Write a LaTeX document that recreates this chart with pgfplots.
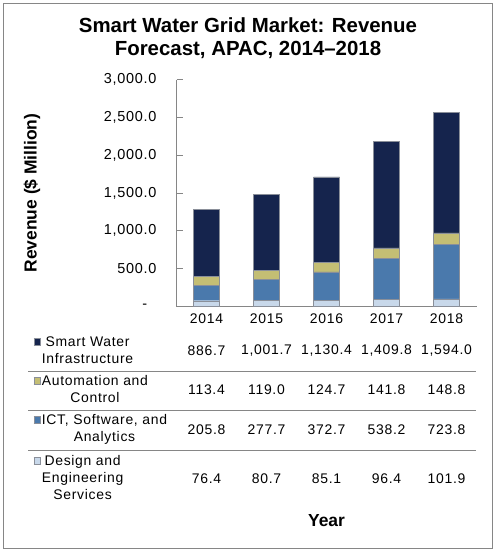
\documentclass[border=0pt]{standalone}
\usepackage{fontspec}
\setmainfont{Liberation Sans}
\newfontfamily\chartfont{Liberation Sans}[LetterSpace=5]
\usepackage{pgfplots}
\pgfplotsset{compat=1.18}
\usepackage{pgfplotstable}

\definecolor{infra}{HTML}{15244D}
\definecolor{autoc}{HTML}{C4BE74}
\definecolor{ict}{HTML}{4A79AC}
\definecolor{design}{HTML}{C8D8EA}
\definecolor{edge}{HTML}{8A8F99}
\definecolor{axisgray}{HTML}{868686}

% revenue, $ million, APAC
\pgfplotstableread{
x design ict auto infra
0 76.4 205.8 113.4 886.7
1 80.7 277.7 119.0 1001.7
2 85.1 372.7 124.7 1130.4
3 96.4 538.2 141.8 1409.8
4 101.9 723.8 148.8 1594.0
}\revenue

\newcommand\txt{\chartfont\fontsize{14}{17}\selectfont}
\newcommand\keybox[1]{\raisebox{1.5bp}{\setlength\fboxsep{0pt}\setlength\fboxrule{0.6bp}\fcolorbox{edge}{#1}{\hspace{6bp}\rule{0pt}{6bp}}}}
% table row label: key box, then a block of centred lines
\newcommand\rowlabel[2]{\keybox{#1}\hspace{1bp}\begin{tabular}[t]{@{}c@{}}#2\end{tabular}}

\begin{document}
\begin{tikzpicture}
\path[use as bounding box] (0,0) rectangle (495bp,-551bp);
\draw[axisgray, line width=1bp] (3.5bp,-3.5bp) rectangle (492bp,-548bp);

\node[font=\bfseries\fontsize{20.5}{24}\selectfont, anchor=base] at (248bp,-32bp) {Smart Water Grid Market: Revenue};
\node[font=\bfseries\fontsize{20.5}{24}\selectfont, anchor=base] at (248bp,-55bp) {Forecast, APAC, 2014–2018};
\node[rotate=90, font=\bfseries\fontsize{17.5}{20}\selectfont] at (32bp,-193bp) {Revenue (\$ Million)};

\begin{axis}[
  at={(176.5bp,-306.5bp)}, anchor=south west,
  scale only axis, width=300bp, height=227bp,
  ybar stacked, bar width=26bp,
  xmin=-0.5, xmax=4.5, ymin=0, ymax=3000,
  axis x line*=bottom, axis y line*=left,
  axis line style={axisgray, line width=0.8bp},
  xtick={0,...,4}, xticklabels={2014,2015,2016,2017,2018},
  xtick style={draw=none},
  x tick label style={font=\txt, anchor=center, yshift=-12.5bp},
  ytick={0,500,...,3000},
  yticklabels={{-\kern9bp},500.0,{1,000.0},{1,500.0},{2,000.0},{2,500.0},{3,000.0}},
  ytick style={axisgray, line width=0.8bp},
  tick align=inside, major tick length=6bp,
  y tick label style={font=\chartfont\fontsize{14.5}{17}\selectfont, anchor=east, inner sep=0pt, xshift=-20bp},
  clip=false,
]
\addplot[fill=design, draw=edge] table[x=x, y=design] {\revenue};
\addplot[fill=ict, draw=edge] table[x=x, y=ict] {\revenue};
\addplot[fill=autoc, draw=edge] table[x=x, y=auto] {\revenue};
\addplot[fill=infra, draw=edge] table[x=x, y=infra] {\revenue};
\end{axis}

% data table under the bars
\begin{axis}[
  at={(176.5bp,-306.5bp)}, anchor=north west,
  scale only axis, width=300bp, height=200bp,
  xmin=-0.5, xmax=4.5, ymin=-200, ymax=0,
  hide axis, clip=false,
  nodes near coords={\pgfmathprintnumber[assume math mode=true, fixed, fixed zerofill, precision=1, 1000 sep={,}]{\pgfplotspointmeta}},
  every node near coord/.append style={font=\txt, anchor=center, inner sep=0pt},
  point meta=explicit,
]
\addplot[draw=none, mark=none] table[x=x, y expr=-44.5, meta=infra] {\revenue};
\addplot[draw=none, mark=none] table[x=x, y expr=-83.5, meta=auto] {\revenue};
\addplot[draw=none, mark=none] table[x=x, y expr=-123.5, meta=ict] {\revenue};
\addplot[draw=none, mark=none] table[x=x, y expr=-172.5, meta=design] {\revenue};
\end{axis}

\foreach \yy in {371,410,450}
  \draw[axisgray, line width=0.8bp] (28bp,-\yy bp) -- (476bp,-\yy bp);

\node[anchor=west, inner sep=0pt, font=\txt] at (33.5bp,-351.5bp) {\rowlabel{infra}{Smart Water\\Infrastructure}};
\node[anchor=west, inner sep=0pt, font=\txt] at (33.5bp,-390.5bp) {\rowlabel{autoc}{Automation and\\Control}};
\node[anchor=west, inner sep=0pt, font=\txt] at (33.5bp,-429.5bp) {\rowlabel{ict}{ICT, Software, and\\Analytics}};
\node[anchor=west, inner sep=0pt, font=\txt] at (33.5bp,-479bp) {\rowlabel{design}{Design and\\Engineering\\Services}};

\node[font=\bfseries\fontsize{17.5}{20}\selectfont] at (326.5bp,-521bp) {Year};
\end{tikzpicture}
\end{document}
